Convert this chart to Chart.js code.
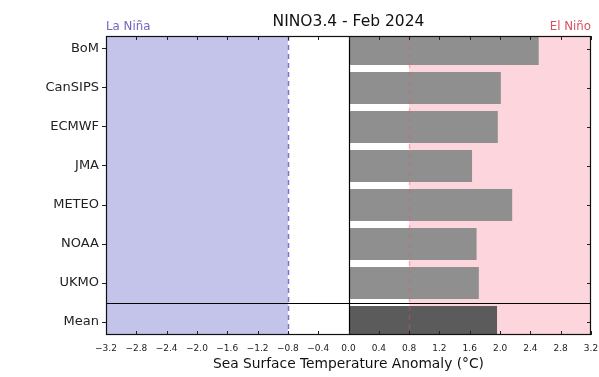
<!DOCTYPE html>
<html>
<head>
<meta charset="utf-8">
<script src="https://cdn.jsdelivr.net/npm/chart.js@4"></script>
<style>
  html, body { margin: 0; padding: 0; background: #fff; }
  #wrap { width: 599px; height: 377px; }
</style>
</head>
<body>
<div id="wrap"><canvas id="c" width="599" height="377"></canvas></div>
<script>
// data
const models = ['BoM', 'CanSIPS', 'ECMWF', 'JMA', 'METEO', 'NOAA', 'UKMO', 'Mean'];
const anomalies = [2.51, 2.01, 1.97, 1.63, 2.16, 1.69, 1.72, 1.96];
const xTicks = [-3.2, -2.8, -2.4, -2.0, -1.6, -1.2, -0.8, -0.4, 0.0, 0.4, 0.8, 1.2, 1.6, 2.0, 2.4, 2.8, 3.2];
const laNinaLimit = -0.8;
const elNinoLimit = 0.8;

const FONT = '"DejaVu Sans", sans-serif';

// bands, thresholds, frame and header texts
const ensoPlugin = {
    id: 'enso',
    beforeDatasetsDraw(chart) {
        const { ctx, chartArea: a, scales: { x } } = chart;
        ctx.save();
        ctx.fillStyle = '#c4c4ea';
        ctx.fillRect(a.left, a.top, x.getPixelForValue(laNinaLimit) - a.left, a.bottom - a.top);
        ctx.fillStyle = '#fdd5dc';
        const px = x.getPixelForValue(elNinoLimit);
        ctx.fillRect(px, a.top, a.right - px, a.bottom - a.top);
        ctx.restore();
    },
    afterDatasetsDraw(chart) {
        const { ctx, chartArea: a, scales: { x, y } } = chart;
        ctx.save();
        // threshold lines
        ctx.setLineDash([5, 4]);
        ctx.lineWidth = 1.5;
        ctx.strokeStyle = '#7a70d6';
        let px = Math.round(x.getPixelForValue(laNinaLimit)) + 0.5;
        ctx.beginPath(); ctx.moveTo(px, a.top); ctx.lineTo(px, a.bottom); ctx.stroke();
        ctx.strokeStyle = 'rgba(220,90,110,0.35)';
        px = Math.round(x.getPixelForValue(elNinoLimit)) + 0.5;
        ctx.beginPath(); ctx.moveTo(px, a.top); ctx.lineTo(px, a.bottom); ctx.stroke();
        ctx.setLineDash([]);

        // zero line and Mean separator
        ctx.strokeStyle = '#000';
        ctx.lineWidth = 1.2;
        px = Math.round(x.getPixelForValue(0)) + 0.5;
        ctx.beginPath(); ctx.moveTo(px, a.top); ctx.lineTo(px, a.bottom); ctx.stroke();
        const py = Math.round(y.getPixelForValue(6.5)) + 0.5;
        ctx.beginPath(); ctx.moveTo(a.left, py); ctx.lineTo(a.right, py); ctx.stroke();

        // inward ticks: top, bottom, right
        ctx.lineWidth = 1;
        ctx.strokeStyle = '#222';
        ctx.beginPath();
        xTicks.forEach(v => {
            const tx = Math.round(x.getPixelForValue(v)) + 0.5;
            ctx.moveTo(tx, a.bottom); ctx.lineTo(tx, a.bottom - 4);
            ctx.moveTo(tx, a.top); ctx.lineTo(tx, a.top + 4);
        });
        models.forEach((m, i) => {
            const ty = Math.round(y.getPixelForValue(i)) + 0.5;
            ctx.moveTo(a.right, ty); ctx.lineTo(a.right - 4, ty);
        });
        ctx.stroke();

        // frame
        ctx.lineWidth = 1.2;
        ctx.strokeStyle = '#111';
        ctx.strokeRect(a.left + 0.5, a.top + 0.5, a.right - a.left - 1, a.bottom - a.top - 1);
        ctx.restore();
    },
    afterDraw(chart) {
        const { ctx, chartArea: a } = chart;
        ctx.save();
        ctx.textBaseline = 'alphabetic';
        ctx.font = '15.5px ' + FONT;
        ctx.fillStyle = '#111';
        ctx.textAlign = 'center';
        ctx.fillText('NINO3.4 - Feb 2024', (a.left + a.right) / 2, 26);
        ctx.font = '11.8px ' + FONT;
        ctx.textAlign = 'left';
        ctx.fillStyle = '#7066c4';
        ctx.fillText('La Niña', a.left, 30);
        ctx.textAlign = 'right';
        ctx.fillStyle = '#d8505e';
        ctx.fillText('El Niño', a.right, 30);
        ctx.restore();
    }
};

new Chart(document.getElementById('c').getContext('2d'), {
    type: 'bar',
    data: {
        datasets: [{
            data: anomalies.map((v, i) => ({ x: v, y: i })),
            backgroundColor: models.map(m => m === 'Mean' ? '#5b5b5b' : '#8f8f8f'),
            borderWidth: 0,
            barPercentage: 0.82,
            categoryPercentage: 1
        }]
    },
    options: {
        indexAxis: 'y',
        responsive: false,
        animation: false,
        layout: { padding: { top: 36, right: 8, bottom: 4, left: 0 } },
        plugins: {
            legend: { display: false },
            title: { display: false },
            tooltip: { enabled: false }
        },
        scales: {
            x: {
                type: 'linear',
                min: -3.2,
                max: 3.2,
                afterFit(scale) {
                    scale.height = 38;
                    scale.paddingLeft = 0;
                    scale.paddingRight = 0;
                },
                afterBuildTicks(scale) { scale.ticks = xTicks.map(v => ({ value: v })); },
                grid: { drawOnChartArea: false, tickLength: 0 },
                border: { display: false },
                ticks: {
                    padding: 8,
                    autoSkip: false,
                    maxRotation: 0,
                    color: '#222',
                    font: { family: FONT, size: 9 },
                    callback: v => v.toFixed(1).replace('-', '\u2212')
                },
                title: {
                    display: true,
                    text: 'Sea Surface Temperature Anomaly (°C)',
                    color: '#111',
                    font: { family: FONT, size: 13.8 },
                    padding: { top: 0, bottom: 0 }
                }
            },
            y: {
                type: 'linear',
                reverse: true,
                offset: false,
                min: -0.33,
                max: 7.33,
                afterFit(scale) { scale.width = 106; },
                afterBuildTicks(scale) { scale.ticks = models.map((m, i) => ({ value: i })); },
                grid: { drawOnChartArea: false, offset: false, tickLength: 4, color: '#222' },
                border: { display: false },
                ticks: {
                    padding: 3,
                    color: '#222',
                    font: { family: FONT, size: 13 },
                    callback: v => models[v]
                }
            }
        }
    },
    plugins: [ensoPlugin]
});
</script>
</body>
</html>
